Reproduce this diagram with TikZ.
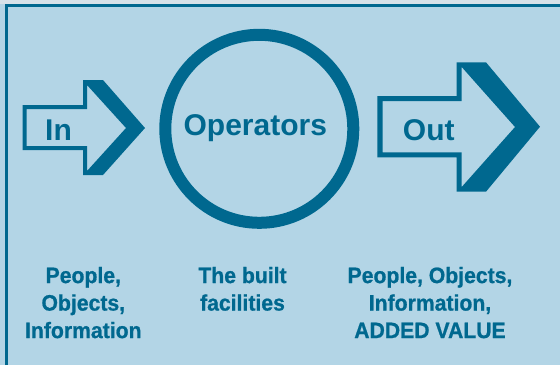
\documentclass[tikz,border=0pt]{standalone}
\usepackage{fontspec}
\setmainfont{Liberation Sans}
\newfontfamily\listfont[FakeStretch=0.95,FakeBold=0.8]{Liberation Sans Bold}
\definecolor{petrol}{RGB}{0,104,143}
\definecolor{paleblue}{RGB}{179,213,230}
\definecolor{palegrey}{RGB}{214,226,233}
\tikzset{
	biglabel/.style={text=petrol, font=\fontsize{30}{36}\selectfont\bfseries, inner sep=0pt, anchor=base},
	smalllabel/.style={text=petrol, font=\fontsize{22.3}{27.5}\selectfont\listfont, inner sep=0pt, anchor=north, align=center}
}

\begin{document}
\begin{tikzpicture}[x=1pt, y=-1pt]
	\useasboundingbox (0,0) rectangle (560,365);
	%background and frame
	\fill[paleblue] (0,0) rectangle (560,365);
	\fill[palegrey] (0,0) rectangle (560,4);
	\draw[petrol, line width=3pt] (6,365)--(6,5.5)--(560,5.5);
	
	%input arrow
	\fill[petrol, even odd rule] (22.7,105)--(83,105)--(83,80)--(103,80)--(145,128)--(103,175)--(83,175)--(83,150)--(22.7,150)--cycle
		(26.5,109)--(87,109)--(87,85)--(126,128)--(87,171)--(87,146)--(26.5,146)--cycle;
	\node[biglabel] (inlabel) at (58.5,140) {In};
	
	%operators ring
	\draw[petrol, line width=12pt] (259.3,128.8) circle (94pt);
	\node[biglabel] (oplabel) at (255.3,135) {Operators};
	
	%output arrow
	\fill[petrol, even odd rule] (377.3,96)--(456.7,96)--(456.7,62.3)--(486,62.3)--(540,126.7)--(486,191.7)--(456.7,191.7)--(456.7,157.3)--(377.3,157.3)--cycle
		(382.5,101)--(461.7,101)--(461.7,67)--(515,127)--(461.7,187)--(461.7,152.3)--(382.5,152.3)--cycle;
	\node[biglabel] (outlabel) at (428.8,140) {Out};
	
	%descriptions
	\node[smalllabel] (inlist) at (83.3,266.7) {People,\\Objects,\\Information};
	\node[smalllabel] (oplist) at (242.5,266.7) {The built\\facilities};
	\node[smalllabel] (outlist) at (430,266.7) {People, Objects,\\Information,\\ADDED VALUE};
\end{tikzpicture}
\end{document}
